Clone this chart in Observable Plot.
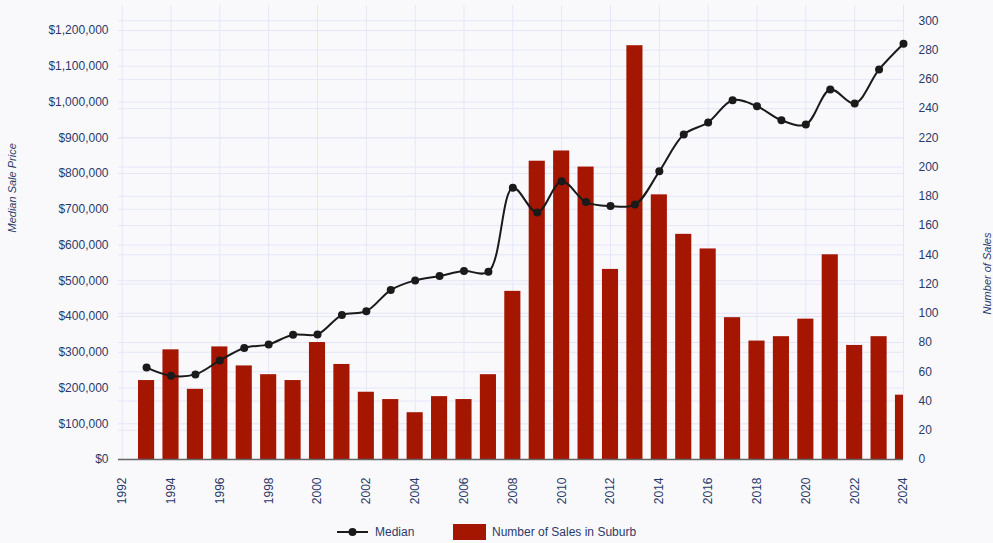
<!DOCTYPE html>
<html>
<head>
<meta charset="utf-8">
<script src="https://cdn.jsdelivr.net/npm/d3@7"></script>
<script src="https://cdn.jsdelivr.net/npm/@observablehq/plot@0.6"></script>
<style>
  html, body { margin: 0; padding: 0; background: #f9f9fc; }
  body { width: 993px; height: 543px; overflow: hidden; font-family: "Liberation Sans", Arial, sans-serif; color: #2b3a6b; }
  #legend { position: relative; height: 28px; font-size: 12px; }
  #legend .item { position: absolute; top: 3px; height: 28px; display: flex; align-items: center; }
</style>
</head>
<body>
<div id="chart"></div>
<div id="legend">
  <div class="item" style="left:337px">
    <svg width="32" height="12"><line x1="0" y1="6" x2="31" y2="6" stroke="#1a1a1a" stroke-width="2"/><circle cx="15.5" cy="6" r="4" fill="#1a1a1a"/></svg>
    <span style="margin-left:6px">Median</span>
  </div>
  <div class="item" style="left:453px">
    <svg width="33" height="16"><rect x="0" y="0" width="33" height="16" fill="#a51600"/></svg>
    <span style="margin-left:6px">Number of Sales in Suburb</span>
  </div>
</div>
<script>
const years = d3.range(1993, 2025);
const salesCount = [54, 75, 48, 77, 64, 58, 54, 80, 65, 46, 41, 32, 43, 41, 58,
  115, 204, 211, 200, 130, 283, 181, 154, 144, 97, 81, 84, 96, 140, 78, 84, 44];
const medianPrice = [257000, 234000, 238000, 277000, 312000, 322000, 349000, 350000,
  404000, 415000, 474000, 501000, 513000, 527000, 525000, 760000, 691000, 778000,
  720000, 709000, 713000, 806000, 909000, 943000, 1005000, 988000, 949000, 937000,
  1035000, 996000, 1091000, 1163000];
const leftTicks = d3.range(0, 1200001, 100000);
const rightTicks = d3.range(0, 301, 20);
const xTicks = d3.range(1992, 2025, 2);

const k = 4090; // dollars per sales unit (dual-axis alignment)
const data = years.map((y, i) => ({year: y, count: salesCount[i], median: medianPrice[i]}));
const gridColor = "#e4e6f8";

const chart = Plot.plot({
  width: 993,
  height: 515,
  marginLeft: 118,
  marginRight: 90,
  marginTop: 5,
  marginBottom: 56,
  style: {background: "#f9f9fc", fontFamily: "'Liberation Sans', Arial, sans-serif", fontSize: "12px", color: "#2a3968", overflow: "visible"},
  x: {type: "linear", domain: [1991.85, 2024]},
  y: {domain: [0, 310.5]},
  marks: [
    Plot.gridY(rightTicks, {stroke: gridColor, strokeOpacity: 1}),
    Plot.gridY(leftTicks.map(v => v / k), {stroke: gridColor, strokeOpacity: 1}),
    Plot.gridX(xTicks, {stroke: gridColor, strokeOpacity: 1}),
    Plot.rect(data, {x1: d => d.year - 0.33, x2: d => d.year + 0.33, y1: 0, y2: "count", fill: "#a51600", clip: true}),
    Plot.ruleY([0], {stroke: "#666", strokeWidth: 1.5}),
    Plot.line(data, {x: "year", y: d => d.median / k, curve: "catmull-rom", stroke: "#1a1a1a", strokeWidth: 2}),
    Plot.dot(data, {x: "year", y: d => d.median / k, r: 4, fill: "#1a1a1a"}),
    Plot.axisX({ticks: xTicks, tickFormat: d => String(d), tickRotate: -90, tickSize: 0, tickPadding: 18, label: null}),
    Plot.axisY({anchor: "left", ticks: leftTicks.map(v => v / k), tickFormat: d => "$" + d3.format(",")(Math.round(d * k / 1000) * 1000), tickSize: 0, tickPadding: 10, label: null}),
    Plot.axisY({anchor: "right", ticks: rightTicks, tickSize: 0, tickPadding: 15, label: null}),
    Plot.text(["Median Sale Price"], {frameAnchor: "left", dx: -106, rotate: -90, fontStyle: "italic", fontSize: 11, text: d => d}),
    Plot.text(["Number of Sales"], {frameAnchor: "right", dx: 84, rotate: -90, fontStyle: "italic", fontSize: 11, text: d => d})
  ]
});
document.getElementById("chart").appendChild(chart);
</script>
</body>
</html>
